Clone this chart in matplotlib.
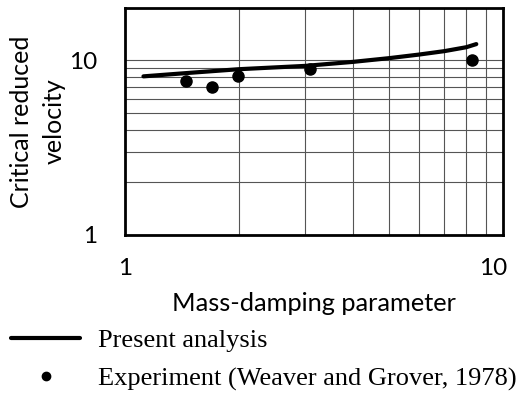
import numpy as np
import matplotlib
matplotlib.use('Agg')
import matplotlib.pyplot as plt
import matplotlib.transforms as mtransforms
from matplotlib.ticker import FixedLocator, NullFormatter

# present analysis curve
ana_x = [1.12, 1.5, 2.0, 3.0, 4.0, 5.0, 6.0, 7.0, 8.0, 8.5]
ana_y = [8.1, 8.5, 8.9, 9.3, 9.8, 10.3, 10.8, 11.3, 11.9, 12.4]

# experiment (Weaver and Grover, 1978)
exp_x = [1.45, 1.70, 1.99, 3.09, 8.28]
exp_y = [7.57, 7.06, 8.09, 8.96, 10.1]

x_ticks = [1, 10]
y_ticks = [1, 10]
x_minor = [2, 3, 4, 5, 6, 7, 8, 9]
y_minor = [2, 3, 4, 5, 6, 7, 8, 9]

sans = ['Lato', 'DejaVu Sans']
serif = ['Liberation Serif', 'DejaVu Serif']

fig = plt.figure(figsize=(5.18, 3.94), dpi=100)
ax = fig.add_axes([0.241, 0.404, 0.73, 0.576])

ax.set_xscale('log')
ax.set_yscale('log')
ax.set_xlim(1, 10)
ax.set_ylim(1, 20)

ax.plot(ana_x, ana_y, 'k-', lw=3, solid_capstyle='round', label='Present analysis', zorder=3)
ax.plot(exp_x, exp_y, 'ko', ms=8, ls='none', label='Experiment (Weaver and Grover, 1978)', zorder=4)

ax.xaxis.set_major_locator(FixedLocator(x_ticks))
ax.yaxis.set_major_locator(FixedLocator(y_ticks))
ax.xaxis.set_minor_locator(FixedLocator(x_minor))
ax.yaxis.set_minor_locator(FixedLocator(y_minor))
ax.xaxis.set_minor_formatter(NullFormatter())
ax.yaxis.set_minor_formatter(NullFormatter())
ax.set_xticklabels([str(v) for v in x_ticks], family=sans, fontsize=17.5)
ax.set_yticklabels([str(v) for v in y_ticks], family=sans, fontsize=17.5)
ax.tick_params(axis='x', which='both', length=0, pad=17)
ax.tick_params(axis='y', which='both', length=0, pad=20)

# the "10" label on x sits a little left of its grid line
shift = mtransforms.ScaledTranslation(-10 / 100, 0, fig.dpi_scale_trans)
lab = ax.get_xticklabels()[-1]
lab.set_transform(lab.get_transform() + shift)

ax.grid(which='both', color='#555555', lw=0.8)
ax.grid(which='major', axis='x', visible=False)
ax.set_axisbelow(True)
for s in ax.spines.values():
    s.set_linewidth(2)
    s.set_color('black')

ax.set_xlabel('Mass-damping parameter', family=sans, fontsize=18.3, labelpad=9)
ax.set_ylabel('Critical reduced\nvelocity', family=sans, fontsize=18, labelpad=2, linespacing=1.55)

fig.legend(loc='upper left', bbox_to_anchor=(0.022, 0.165), frameon=False,
           prop={'family': serif, 'size': 19}, handlelength=2.6, handletextpad=0.7,
           labelspacing=0.55, markerscale=0.75, borderpad=0, borderaxespad=0)

fig.savefig('out.png', dpi=100)
